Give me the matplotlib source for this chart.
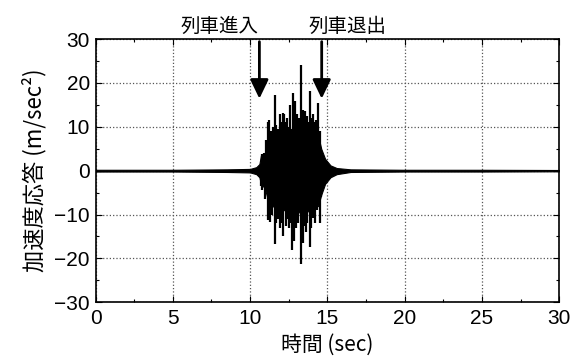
import matplotlib
matplotlib.use("Agg")
import matplotlib.pyplot as plt
from matplotlib.ticker import MultipleLocator

# core of the response (solid black part)
env_t = [0.0, 5.0, 8.5, 10.0, 10.4, 10.6, 10.7, 10.95, 11.1, 11.3, 11.6, 12.0, 12.5,
         13.0, 13.5, 14.0, 14.4, 14.6, 14.85, 15.2, 15.6, 16.5, 20.0, 25.0, 30.0]
env_hi = [0.2, 0.2, 0.3, 0.4, 0.8, 1.5, 3.5, 4.0, 6.5, 8.0, 8.5, 9.0, 9.5,
          9.5, 9.5, 9.0, 8.0, 5.0, 2.7, 1.2, 0.6, 0.3, 0.2, 0.2, 0.15]
env_lo = [-0.2, -0.2, -0.3, -0.4, -0.8, -1.5, -3.0, -4.0, -6.0, -7.5, -8.5, -9.0, -9.0,
          -9.5, -9.5, -9.0, -8.0, -5.5, -3.0, -1.5, -0.8, -0.3, -0.2, -0.2, -0.15]

# individual peaks sticking out of the core
up_t = [10.75, 10.9, 11.05, 11.18, 11.24, 11.35, 11.45, 11.61, 11.7, 11.8, 11.93, 12.0,
        12.13, 12.2, 12.3, 12.4, 12.5, 12.6, 12.76, 12.88, 12.95, 13.05, 13.15, 13.27,
        13.35, 13.42, 13.55, 13.65, 13.75, 13.87, 13.95, 14.05, 14.18, 14.25, 14.39, 14.5]
up_v = [3.8, 4.0, 7.0, 11.0, 11.5, 9.0, 10.0, 17.2, 10.5, 9.5, 13.0, 11.0,
        13.2, 12.8, 11.0, 12.0, 10.0, 15.0, 17.6, 15.8, 11.5, 13.0, 12.0, 24.1,
        13.0, 13.9, 13.5, 12.5, 11.0, 18.1, 12.0, 13.0, 11.2, 11.5, 15.5, 9.0]

dn_t = [10.7, 10.75, 10.95, 11.18, 11.29, 11.4, 11.61, 11.7, 11.8, 11.93, 12.05, 12.15,
        12.3, 12.4, 12.5, 12.6, 12.73, 12.85, 12.95, 13.1, 13.29, 13.4, 13.5, 13.6,
        13.7, 13.87, 13.95, 14.07, 14.2, 14.3, 14.5, 14.6, 14.75]
dn_v = [-3.5, -4.5, -6.5, -11.3, -11.7, -10.0, -16.7, -12.0, -11.0, -13.0, -12.0, -14.9,
        -12.6, -11.0, -13.0, -12.0, -18.0, -16.0, -13.0, -12.0, -21.3, -16.4, -12.6, -14.0,
        -12.0, -17.5, -13.0, -10.7, -12.0, -9.0, -12.0, -6.0, -3.0]

x_ticks = [0, 5, 10, 15, 20, 25, 30]
y_ticks = [-30, -20, -10, 0, 10, 20, 30]

t_in, t_out = 10.6, 14.63   # arrow positions (sec)

jp = ["Noto Sans CJK JP", "DejaVu Sans"]
num = ["Liberation Sans", "DejaVu Sans"]

fig = plt.figure(figsize=(5.74, 3.62), dpi=100)
ax = fig.add_axes([0.1664, 0.1649, 0.8080, 0.7273])

ax.fill_between(env_t, env_lo, env_hi, color="black", lw=0.8, zorder=3)
ax.vlines(up_t, 0, up_v, color="black", lw=1.6, zorder=3)
ax.vlines(dn_t, dn_v, 0, color="black", lw=1.6, zorder=3)

ax.set_xlim(0, 30)
ax.set_ylim(-30, 30)
ax.set_xticks(x_ticks)
ax.set_yticks(y_ticks)
ax.set_xticklabels([str(v) for v in x_ticks], family=num, fontsize=15)
ax.set_yticklabels([str(v).replace("-", "\u2212") for v in y_ticks], family=num, fontsize=15)
ax.xaxis.set_minor_locator(MultipleLocator(2.5))
ax.yaxis.set_minor_locator(MultipleLocator(5))
ax.tick_params(which="both", direction="in", top=True, right=True, width=0.8)
ax.tick_params(which="major", length=4)
ax.tick_params(which="minor", length=2.5)
ax.tick_params(axis="x", pad=5)
ax.tick_params(axis="y", pad=4)
ax.grid(True, which="major", linestyle=":", color="#555555", lw=0.9)
for s in ax.spines.values():
    s.set_linewidth(1.2)

ax.set_xlabel("時間 (sec)", family=jp, fontsize=15, labelpad=4)
ax.set_ylabel("加速度応答 (m/sec²)", family=jp, fontsize=16, labelpad=6)

arrow = dict(arrowstyle="-|>,head_length=1.15,head_width=0.55", mutation_scale=10,
             lw=2, color="black", shrinkA=0, shrinkB=0)
ax.annotate("", xy=(t_in, 16.4), xytext=(t_in, 29.4), arrowprops=arrow, annotation_clip=False)
ax.annotate("", xy=(t_out, 16.4), xytext=(t_out, 29.4), arrowprops=arrow, annotation_clip=False)
ax.text(10.55, 32.8, "列車進入", family=jp, fontsize=14, ha="right", va="center", clip_on=False)
ax.text(13.81, 32.8, "列車退出", family=jp, fontsize=14, ha="left", va="center", clip_on=False)

fig.savefig("out.png", dpi=100)
